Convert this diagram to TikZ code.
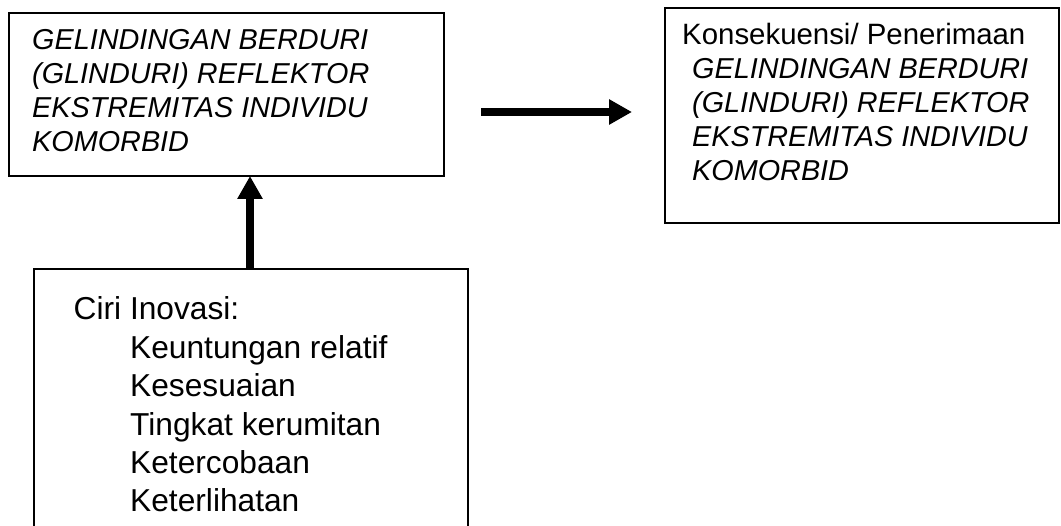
\documentclass[tikz,border=0pt]{standalone}
\usepackage{fontspec}
\setmainfont{Liberation Sans}
\usetikzlibrary{arrows.meta}
\begin{document}
\begin{tikzpicture}[x=1pt,y=-1pt,
  box/.style={draw=black, line width=1.6pt, inner sep=0pt, outer sep=0pt, anchor=north west},
  ittext/.style={anchor=base west, inner sep=0pt, font=\fontsize{28.8}{34}\selectfont\itshape},
  uptext/.style={anchor=base west, inner sep=0pt, font=\fontsize{29.4}{34}\selectfont},
  bigtext/.style={anchor=base west, inner sep=0pt, font=\fontsize{31.7}{38}\selectfont},
  fatarrow/.style={line width=7.5pt, -{Triangle[length=23pt,width=24pt]}}]
\useasboundingbox (0,0) rectangle (1061,526);
\clip (0,0) rectangle (1061,526);
% boxes
\node[box, line width=1.9pt, minimum width=435pt, minimum height=163pt] (b1) at (9,13) {};
\node[box, line width=1.4pt, minimum width=394pt, minimum height=215pt] (b2) at (665,8) {};
\node[box, line width=1.4pt, minimum width=434pt, minimum height=300pt] (b3) at (34,269) {};
% box 1 text
\foreach \t [count=\i] in {GELINDINGAN BERDURI,(GLINDURI) REFLEKTOR,EKSTREMITAS INDIVIDU,KOMORBID}
  \node[ittext] (b1t\i) at (32,{50+34*(\i-1)}) {\t};
% box 2 text
\node[uptext] (b2t0) at (682,45) {Konsekuensi/ Penerimaan};
\foreach \t [count=\i] in {GELINDINGAN BERDURI,(GLINDURI) REFLEKTOR,EKSTREMITAS INDIVIDU,KOMORBID}
  \node[ittext] (b2t\i) at (692,{45+34*\i}) {\t};
% box 3 text
\node[bigtext] (b3t0) at (73.5,320) {Ciri Inovasi:};
\foreach \t [count=\i] in {Keuntungan relatif,Kesesuaian,Tingkat kerumitan,Ketercobaan,Keterlihatan}
  \node[bigtext] (b3t\i) at (130,{320+38.4*\i}) {\t};
% arrows
\coordinate (vx) at (250,0);
\draw[fatarrow] (b3.north -| vx) -- (b1.south -| vx);
\coordinate (hs) at (481,112);
\coordinate (he) at (632,112);
\draw[fatarrow] (hs) -- (he);
\end{tikzpicture}
\end{document}
